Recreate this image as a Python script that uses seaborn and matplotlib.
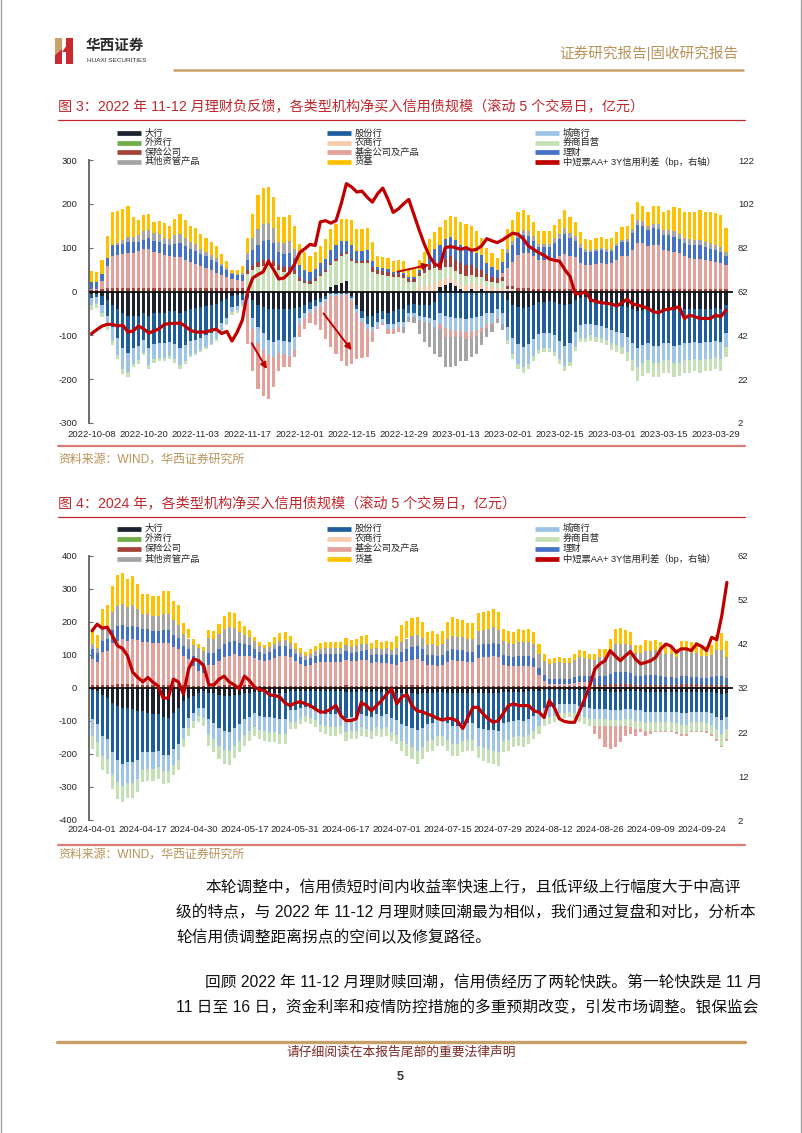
import matplotlib
matplotlib.use("Agg")
import matplotlib.pyplot as plt
from matplotlib.patches import Polygon
import numpy as np
import pandas as pd
import seaborn as sns

# ---------------- figure 3: 2022-10 ~ 2023-03 ----------------
dates_1 = ["2022-10-08", "2022-10-20", "2022-11-03", "2022-11-17", "2022-12-01",
           "2022-12-15", "2022-12-29", "2023-01-13", "2023-02-01", "2023-02-15",
           "2023-03-01", "2023-03-15", "2023-03-29"]

c1_dahang = [-5, -5, -10, -20, -30, -40, -50, -55, -55, -55,
             -50, -55, -50, -50, -48, -45, -45, -48, -45, -40,
             -38, -35, -32, -30, -28, -22, -18, -10, -8, -5,
             -5, -20, -30, -35, -40, -40, -40, -40, -40, -38,
             -35, -30, -25, -20, -15, -10, 10, 15, 20, 25,
             -10, -30, -45, -55, -55, -50, -45, -50, -45, -40,
             -40, -30, -28, -30, -30, -30, -25, 10, 15, 20,
             12, 5, 0, 5, 0, 5, 0, 0, 0, 0,
             -20, -30, -35, -38, -35, -30, -25, -25, -22, -25,
             -28, -30, -28, -20, -15, -12, -25, -25, -26, -28,
             -30, -32, -32, -35, -40, -45, -42, -40, -42, -42,
             -40, -40, -42, -42, -40, -40, -40, -40, -40, -40,
             -38, -40, -30]
c1_gufen = [-10, -8, -20, -35, -50, -65, -80, -85, -75, -70,
            -60, -75, -70, -68, -70, -70, -75, -82, -78, -72,
            -72, -70, -68, -65, -60, -50, -42, -25, -25, -15,
            -10, -40, -50, -60, -70, -75, -70, -72, -75, -65,
            -25, -20, -15, -12, -10, -8, -5, -5, -5, -5,
            -5, -10, -15, -20, -25, -20, -18, -25, -30, -30,
            -30, -20, -22, -25, -28, -30, -40, -50, -55, -58,
            -60, -60, -62, -60, -58, -55, -50, -48, -40, -50,
            -60, -75, -85, -88, -85, -78, -72, -70, -72, -75,
            -85, -95, -90, -72, -62, -63, -50, -52, -53, -55,
            -58, -60, -62, -68, -78, -85, -80, -78, -82, -82,
            -78, -78, -82, -80, -78, -78, -76, -78, -76, -76,
            -75, -76, -65]
c1_chengshang = [-15, -15, -18, -23, -33, -39, -46, -44, -35, -32,
                 -30, -38, -35, -33, -33, -32, -35, -38, -35, -32,
                 -30, -28, -26, -24, -20, -17, -14, -12, -10, -10,
                 -14, -26, -38, -38, -36, -34, -31, -31, -33, -30,
                 -14, -10, -8, -8, -8, -5, -5, -5, -3, -3,
                 -5, -8, -10, -10, -10, -10, -9, -11, -11, -12,
                 -10, -9, -8, -11, -12, -12, -17, -25, -28, -30,
                 -30, -30, -31, -30, -30, -28, -26, -24, -20, -25,
                 -30, -38, -45, -47, -45, -40, -37, -35, -36, -38,
                 -42, -45, -42, -35, -30, -30, -25, -26, -26, -27,
                 -30, -31, -32, -35, -38, -42, -40, -38, -40, -40,
                 -38, -38, -40, -40, -38, -38, -37, -38, -37, -37,
                 -36, -37, -32]
c1_nongshang = [0, 0, 0, 0, 0, 0, 0, 0, 0, 0,
                0, 0, 0, 0, 0, 0, 0, 0, 0, 0,
                0, 0, 0, 0, 0, 0, 0, 0, 0, 0,
                0, 0, 0, 0, 0, 0, 0, 0, 0, 0,
                0, 0, 0, 0, 0, 0, 0, 0, 0, 0,
                0, 0, 0, 0, 0, 0, 0, 0, 0, 0,
                0, 0, 0, 10, 12, 15, 18, 15, 15, 15,
                15, 15, 15, 15, 15, 12, 10, 10, 8, 8,
                5, 5, 0, 0, 0, 0, 0, 0, 0, 0,
                0, 0, 0, 0, 0, 0, 0, 0, 0, 0,
                0, 0, 0, 0, 0, 0, 0, 0, 0, 0,
                0, 0, 0, 0, 0, 0, 0, 0, 0, 0,
                0, 0, 0]
c1_quanshang = [-12, -10, -10, -10, -10, -10, -12, -12, -8, -8,
                -6, -9, -7, -7, -7, -7, -7, -9, -7, -6,
                -6, -5, -5, -4, -4, -3, -3, -7, -7, -5,
                40, 50, 55, 58, 60, 58, 50, 45, 45, 40,
                25, 20, 18, 25, 35, 45, 50, 55, 60, 60,
                70, 65, 65, 65, 45, 40, 38, 36, 32, 32,
                30, 22, 22, 25, 30, 35, 35, 25, 25, 20,
                20, 20, 20, 18, 18, 15, 15, 12, 12, 15,
                -9, -11, -12, -12, -12, -10, -8, -8, -8, -10,
                -10, -11, -9, -8, -8, -10, -12, -12, -13, -13,
                -15, -15, -16, -20, -25, -32, -30, -29, -32, -31,
                -29, -29, -32, -30, -29, -29, -28, -29, -28, -28,
                -28, -28, -23]
c1_baoxian = [3, 3, 5, 8, 8, 8, 8, 8, 8, 8,
              8, 8, 8, 8, 8, 8, 8, 8, 8, 8,
              8, 8, 8, 8, 8, 8, 8, 8, 8, 8,
              8, 10, 12, 15, 15, 12, 10, 10, 10, 8,
              5, 5, 5, 5, 5, 5, 5, 5, 5, 5,
              5, 5, 5, 8, 10, 8, 8, 8, 8, 8,
              8, 6, 6, 8, 10, 12, 15, 15, 20, 25,
              25, 25, 25, 22, 20, 18, 15, 12, 10, 10,
              8, 8, 8, 8, 8, 6, 6, 6, 6, 6,
              6, 6, 6, 6, 5, 5, 5, 5, 5, 5,
              5, 5, 5, 5, 5, 5, 5, 5, 5, 5,
              5, 5, 5, 5, 5, 5, 5, 5, 5, 5,
              5, 5, 5]
c1_jijin = [3, 3, 20, 50, 72, 75, 78, 80, 80, 85,
            88, 88, 82, 80, 75, 72, 70, 70, 65, 60,
            55, 50, 45, 40, 35, 30, 25, 20, 18, 15,
            -90, -95, -105, -105, -100, -70, -40, -30, -25, -17,
            -30, -25, -25, -37, -55, -85, -117, -132, -150, -163,
            -145, -106, -82, -65, -25, -5, -5, -10, -10, -10,
            0, 0, 0, 0, 0, 0, 0, -10, -20, -15,
            -14, -13, -15, -15, -14, -10, -8, -5, -3, 10,
            40, 55, 75, 80, 80, 75, 65, 65, 65, 70,
            75, 80, 75, 72, 60, 55, 55, 58, 60, 58,
            60, 68, 75, 75, 90, 105, 105, 98, 100, 100,
            90, 88, 85, 82, 75, 72, 70, 70, 68, 65,
            62, 60, 55]
c1_licai = [15, 15, 15, 18, 25, 22, 22, 25, 25, 20,
            22, 25, 25, 25, 25, 25, 30, 32, 30, 30,
            30, 28, 28, 25, 25, 20, 15, 12, 12, 15,
            25, 34, 40, 42, 42, 40, 30, 30, 32, 28,
            30, 25, 22, 22, 25, 25, 30, 30, 30, 25,
            30, 22, 22, 22, 15, 8, 8, 8, 5, 5,
            5, 4, 4, 5, 10, 20, 30, 40, 45, 45,
            45, 40, 40, 38, 35, 33, 25, 23, 20, 25,
            35, 38, 40, 40, 38, 35, 30, 30, 30, 35,
            38, 45, 40, 38, 35, 30, 30, 30, 30, 28,
            28, 30, 32, 32, 38, 42, 40, 38, 40, 38,
            35, 35, 35, 32, 30, 30, 30, 30, 28, 28,
            28, 25, 20]
c1_qita = [0, 0, 0, 0, 0, 5, 10, 12, 12, 15,
           20, 20, 18, 18, 15, 15, 20, 22, 18, 15,
           15, 12, 10, 10, 8, 5, 5, 3, 3, 5,
           15, 27, 35, 38, 40, 35, 22, 25, 28, 20,
           0, 0, 0, 0, 0, 0, 0, 0, 0, 0,
           0, 0, 0, 0, 0, 0, 0, 0, 0, 0,
           -15, -10, -15, -30, -45, -55, -60, -65, -70, -70,
           -65, -55, -50, -45, -40, -30, -20, -15, -10, -13,
           10, 10, 12, 12, 12, 10, 8, 8, 8, 10,
           12, 14, 12, 10, 8, 6, 5, 5, 5, 5,
           5, 6, 6, 8, 10, 12, 10, 8, 10, 10,
           10, 12, 12, 12, 12, 12, 12, 12, 12, 12,
           12, 12, 10]
c1_huoji = [25, 23, 33, 51, 76, 74, 70, 69, 44, 35,
            37, 35, 26, 30, 33, 30, 37, 44, 41, 37,
            36, 33, 32, 29, 28, 22, 16, 7, 9, 15,
            35, 56, 79, 83, 82, 71, 57, 59, 60, 54,
            48, 40, 37, 37, 39, 44, 47, 49, 50, 50,
            57, 50, 50, 50, 43, 25, 25, 25, 24, 26,
            26, 22, 20, 24, 27, 37, 37, 43, 44, 48,
            52, 54, 54, 52, 50, 40, 35, 30, 27, 28,
            44, 46, 46, 45, 37, 32, 29, 29, 29, 31,
            34, 42, 36, 33, 27, 23, 23, 25, 25, 23,
            25, 27, 30, 30, 34, 40, 35, 33, 40, 43,
            41, 45, 55, 59, 59, 62, 64, 68, 68, 72,
            72, 73, 56]
c1_spread = [42.8, 44.6, 46.2, 47, 47, 46.3, 46.6, 43.5, 44, 46.2,
             45, 43, 44, 45, 47, 47.4, 47.4, 47.7, 46.2, 44.3,
             43.5, 43.5, 43.5, 44.3, 44.8, 42.8, 43.8, 39.4, 43.5, 49,
             62, 68.2, 69.7, 71, 75.8, 72, 67.7, 68.2, 70.5, 74.3,
             79.7, 81.5, 83.5, 83, 93.8, 94.3, 93.2, 94.3, 102, 111.2,
             109.7, 107.4, 107.8, 105, 102.8, 106.6, 109.2, 104, 98.1, 99.7,
             102, 104, 97, 90, 83.5, 78, 74.5, 73.5, 82, 82.5,
             82, 81.2, 82, 80.8, 81.2, 82.8, 86.1, 85.1, 84.3, 85.5,
             87.1, 88.6, 88.1, 86.1, 82.8, 81.2, 79.7, 78.5, 76.9, 76.3,
             75.8, 72, 68.9, 61, 61, 62, 58.2, 57.4, 56.9, 56.6,
             56.3, 55.4, 56.9, 58.5, 56.3, 55.8, 55.1, 54.3, 52.8, 52.3,
             53.5, 54, 54.3, 55.1, 49.7, 51.2, 50.5, 49.7, 49.7, 49.7,
             51.2, 50.5, 53.5]
# red arrows drawn on figure 3: (start, end) in (bar index, value)
arrows_1 = [((30.8, -118), (33.7, -177)),
            ((44.6, -50), (50.0, -134)),
            ((58.8, 45), (64.9, 61))]

# ---------------- figure 4: 2024-04 ~ 2024-09 ----------------
dates_2 = ["2024-04-01", "2024-04-17", "2024-04-30", "2024-05-17", "2024-05-31",
           "2024-06-17", "2024-07-01", "2024-07-15", "2024-07-29", "2024-08-12",
           "2024-08-26", "2024-09-09", "2024-09-24"]

c2_dahang = [-5, -10, -20, -30, -45, -54, -60, -60, -65, -70,
             -70, -75, -80, -80, -88, -90, -75, -60, -40, -30,
             -25, -15, -10, -15, -15, -20, -25, -25, -20, -20,
             -15, -15, -12, -12, -12, -12, -15, -16, -16, -10,
             -10, -8, -8, -8, -8, -10, -10, -10, -10, -10,
             -12, -12, -12, -10, -12, -12, -10, -12, -10, -12,
             -15, -15, -15, -15, -18, -15, -15, -15, -12, -12,
             -15, -15, -15, -15, -15, -15, -15, -15, -15, -15,
             -15, -12, -12, -12, -12, -12, -10, -10, -8, -5,
             -5, -5, -5, -5, -5, -5, -5, -5, -5, -8,
             -10, -10, -12, -12, -12, -10, -10, -10, -10, -12,
             -12, -12, -12, -12, -12, -12, -12, -12, -12, -12,
             -12, -12, -12, -15, -18, -15]
c2_gufen = [-90, -100, -125, -125, -150, -165, -170, -165, -160, -148,
            -125, -120, -115, -112, -115, -112, -110, -110, -80, -62,
            -50, -45, -50, -80, -90, -100, -105, -108, -100, -90,
            -80, -72, -65, -72, -75, -76, -75, -79, -79, -58,
            -58, -52, -50, -52, -58, -65, -68, -70, -70, -68,
            -78, -75, -75, -70, -72, -75, -70, -72, -70, -78,
            -82, -95, -100, -105, -110, -105, -95, -92, -85, -85,
            -92, -100, -100, -95, -92, -92, -105, -108, -112, -113,
            -115, -95, -92, -88, -85, -88, -83, -75, -68, -55,
            -52, -50, -45, -44, -42, -45, -50, -52, -55, -55,
            -55, -55, -55, -55, -55, -55, -55, -58, -58, -60,
            -60, -60, -60, -60, -60, -62, -65, -65, -60, -60,
            -60, -62, -65, -72, -80, -72]
c2_chengshang = [-50, -55, -60, -60, -65, -66, -66, -62, -62, -58,
                 -52, -50, -50, -48, -50, -50, -48, -48, -35, -30,
                 -25, -24, -30, -45, -50, -55, -58, -58, -55, -50,
                 -47, -43, -40, -42, -43, -44, -43, -45, -45, -34,
                 -34, -30, -28, -30, -32, -36, -37, -39, -39, -37,
                 -43, -42, -42, -39, -40, -42, -39, -40, -39, -43,
                 -45, -50, -55, -58, -62, -58, -52, -50, -48, -48,
                 -50, -55, -55, -52, -50, -50, -57, -59, -61, -62,
                 -64, -55, -53, -50, -48, -50, -48, -44, -40, -34,
                 -32, -30, -27, -26, -25, -27, -30, -32, -34, -32,
                 -30, -30, -30, -30, -30, -30, -30, -32, -32, -33,
                 -32, -32, -32, -32, -32, -33, -34, -34, -32, -32,
                 -32, -32, -34, -38, -42, -38]
c2_quanshang = [-40, -45, -45, -46, -46, -51, -50, -47, -47, -40,
                -37, -36, -36, -36, -38, -36, -32, -32, -25, -22,
                -20, -20, -24, -36, -38, -40, -42, -42, -38, -35,
                -33, -30, -27, -29, -30, -31, -30, -30, -30, -22,
                -22, -19, -18, -19, -21, -23, -24, -25, -25, -24,
                -27, -26, -26, -25, -25, -26, -25, -25, -25, -27,
                -28, -30, -35, -37, -40, -37, -33, -33, -30, -30,
                -33, -36, -36, -33, -33, -33, -36, -38, -39, -40,
                -41, -33, -33, -30, -30, -30, -29, -26, -23, -20,
                -20, -19, -17, -17, -17, -17, -19, -20, -20, -20,
                -20, -20, -18, -18, -18, -20, -22, -24, -24, -25,
                -25, -25, -25, -25, -25, -27, -28, -28, -25, -25,
                -25, -25, -28, -30, -35, -30]
c2_baoxian = [8, 8, 8, 8, 10, 12, 12, 12, 12, 10,
              10, 10, 10, 10, 10, 10, 10, 8, 8, 8,
              6, 6, 6, 6, 6, 6, 8, 8, 8, 8,
              8, 8, 6, 6, 6, 6, 6, 6, 6, 6,
              6, 6, 6, 6, 6, 6, 6, 6, 6, 6,
              8, 6, 6, 6, 6, 6, 6, 6, 6, 6,
              6, 8, 8, 8, 8, 8, 6, 6, 6, 6,
              6, 6, 6, 6, 6, 6, 6, 6, 6, 6,
              6, 6, 6, 6, 6, 6, 6, 6, 5, 5,
              5, 5, 5, 5, 5, 5, 5, 5, 5, 8,
              10, 10, 12, 12, 12, 12, 12, 10, 10, 10,
              10, 10, 10, 10, 10, 10, 12, 12, 12, 12,
              10, 10, 10, 10, 10, 10]
c2_jijin = [80, 70, 100, 105, 125, 130, 135, 130, 135, 135,
            130, 130, 125, 125, 125, 125, 115, 110, 90, 80,
            60, 45, 40, 65, 65, 75, 85, 90, 95, 90,
            90, 90, 85, 78, 75, 80, 85, 92, 92, 88,
            75, 68, 62, 65, 70, 72, 74, 74, 74, 74,
            78, 75, 77, 80, 80, 70, 72, 70, 70, 68,
            65, 70, 75, 78, 80, 75, 65, 65, 62, 65,
            72, 78, 76, 75, 72, 72, 85, 88, 88, 90,
            88, 65, 62, 60, 62, 60, 62, 58, 35, 15,
            8, 8, 8, 8, 8, 10, 12, 12, 10, -24,
            -40, -65, -70, -65, -50, -29, -22, -20, -10, -14,
            -10, -5, -5, -5, -5, -5, -5, -5, -5, -5,
            -5, -5, -5, -5, -5, -5]
c2_licai = [30, 28, 35, 35, 40, 45, 45, 42, 42, 40,
            38, 38, 38, 38, 40, 40, 35, 33, 30, 30,
            30, 30, 30, 35, 35, 38, 40, 42, 40, 38,
            35, 32, 28, 25, 22, 24, 27, 28, 28, 25,
            22, 20, 18, 20, 22, 24, 24, 24, 24, 24,
            26, 25, 25, 27, 28, 24, 26, 25, 26, 25,
            28, 32, 35, 38, 38, 35, 30, 30, 28, 30,
            33, 35, 34, 33, 32, 32, 38, 38, 38, 40,
            38, 30, 28, 28, 30, 30, 30, 28, 22, 18,
            15, 15, 15, 15, 15, 18, 20, 20, 20, 22,
            25, 25, 30, 35, 35, 35, 32, 25, 25, 28,
            28, 28, 25, 22, 22, 20, 25, 25, 22, 22,
            20, 20, 22, 25, 25, 20]
c2_qita = [16, 14, 37, 40, 54, 61, 62, 60, 62, 55,
           45, 45, 45, 45, 48, 48, 45, 40, 35, 32,
           35, 40, 35, 45, 43, 45, 45, 45, 40, 33,
           28, 25, 22, 18, 17, 15, 16, 17, 18, 16,
           14, 12, 12, 13, 14, 15, 16, 16, 16, 16,
           18, 17, 18, 20, 20, 17, 18, 17, 18, 17,
           22, 30, 32, 35, 36, 35, 30, 32, 30, 32,
           38, 40, 40, 40, 38, 38, 45, 45, 46, 48,
           45, 40, 40, 40, 42, 42, 42, 42, 40, 45,
           45, 47, 50, 48, 48, 52, 57, 55, 52, 55,
           60, 60, 70, 85, 85, 85, 85, 70, 70, 75,
           75, 77, 75, 70, 70, 65, 75, 75, 72, 72,
           68, 66, 68, 80, 80, 65]
c2_huoji = [40, 40, 60, 62, 80, 93, 93, 87, 87, 75,
            62, 62, 62, 60, 70, 70, 60, 60, 34, 29,
            18, 12, 12, 25, 25, 30, 39, 46, 43, 35,
            28, 22, 15, 11, 10, 15, 20, 24, 25, 24,
            18, 14, 12, 14, 16, 19, 20, 20, 20, 20,
            22, 21, 22, 25, 28, 20, 23, 22, 22, 22,
            37, 50, 52, 52, 52, 47, 40, 41, 38, 41,
            50, 55, 53, 52, 48, 49, 53, 54, 54, 55,
            54, 38, 38, 37, 39, 39, 39, 37, 31, 20,
            15, 15, 15, 15, 15, 18, 22, 21, 16, 18,
            23, 23, 36, 47, 49, 45, 42, 25, 25, 32,
            30, 30, 28, 24, 24, 23, 31, 31, 32, 32,
            32, 30, 30, 46, 52, 48]
c2_spread = [45, 46.5, 45.6, 45.8, 43.9, 41.6, 41, 39.3, 35.6, 34.4,
             33.4, 34.4, 33.3, 32.5, 29.7, 29.7, 34, 33.4, 30.6, 36.3,
             38.6, 38.2, 37, 32.7, 32.7, 34, 34.7, 33.4, 32.7, 31.8,
             34.7, 33.7, 32.2, 31.6, 31.4, 30.4, 30.3, 29.9, 28.6, 28,
             28.6, 28.9, 28.4, 28, 27.2, 26.5, 26.6, 27.2, 28, 25.7,
             24.6, 24.6, 25, 28.7, 28, 26.8, 28, 29.1, 30.6, 31.8,
             28.4, 30, 30.5, 28, 26.8, 26.6, 26.1, 25.7, 25.1, 24.7,
             25.1, 25, 24.4, 22.8, 25.3, 27.6, 27.6, 26.1, 25, 24.2,
             24.6, 26.3, 28, 28.4, 28, 28, 28, 26.8, 26.5, 25.3,
             29.1, 27.6, 25, 24.4, 24.2, 24.2, 26.8, 29.5, 32.5, 36.3,
             37.5, 38.2, 40.5, 39.3, 38.2, 39.3, 40.3, 38.6, 37.5, 37.8,
             38.2, 39, 40.9, 42, 41.5, 40.1, 40.9, 40.9, 40.5, 42,
             41.5, 40.5, 43.5, 43, 48.5, 56]

# ---------------- page text ----------------
title_1 = "图 3：2022 年 11-12 月理财负反馈，各类型机构净买入信用债规模（滚动 5 个交易日，亿元）"
title_2 = "图 4：2024 年，各类型机构净买入信用债规模（滚动 5 个交易日，亿元）"
source = "资料来源：WIND，华西证券研究所"
body = [("本轮调整中，信用债短时间内收益率快速上行，且低评级上行幅度大于中高评", 205, 888),
        ("级的特点，与 2022 年 11-12 月理财赎回潮最为相似，我们通过复盘和对比，分析本", 176, 913),
        ("轮信用债调整距离拐点的空间以及修复路径。", 176, 937),
        ("回顾 2022 年 11-12 月理财赎回潮，信用债经历了两轮快跌。第一轮快跌是 11 月", 205, 983),
        ("11 日至 16 日，资金利率和疫情防控措施的多重预期改变，引发市场调整。银保监会", 176, 1008)]

SERIES = ["大行", "股份行", "城商行", "外资行", "农商行", "券商自营", "保险公司",
          "基金公司及产品", "理财", "其他资管产品", "货基"]
COLORS = {"大行": "#1d2230", "股份行": "#1f5e9c", "城商行": "#9dc3e6", "外资行": "#70ad47",
          "农商行": "#f8cbad", "券商自营": "#c5e0b4", "保险公司": "#a3423a",
          "基金公司及产品": "#e3a19c", "理财": "#4472c4", "其他资管产品": "#a5a5a5",
          "货基": "#ffc000"}
RED = "#c00000"
LINE_LABEL = "中短票AA+ 3Y信用利差（bp，右轴）"

frame_1 = pd.DataFrame({"大行": c1_dahang, "股份行": c1_gufen, "城商行": c1_chengshang,
                        "农商行": c1_nongshang, "券商自营": c1_quanshang, "保险公司": c1_baoxian,
                        "基金公司及产品": c1_jijin, "理财": c1_licai, "其他资管产品": c1_qita,
                        "货基": c1_huoji})
frame_2 = pd.DataFrame({"大行": c2_dahang, "股份行": c2_gufen, "城商行": c2_chengshang,
                        "券商自营": c2_quanshang, "保险公司": c2_baoxian,
                        "基金公司及产品": c2_jijin, "理财": c2_licai, "其他资管产品": c2_qita,
                        "货基": c2_huoji})
assert len(frame_1) == len(c1_spread) == 123
assert len(frame_2) == len(c2_spread) == 126

sns.set_theme(style="white")
plt.rcParams["font.family"] = ["Liberation Sans", "Noto Sans CJK SC", "DejaVu Sans"]
plt.rcParams["axes.unicode_minus"] = False

W, H = 802, 1133
fig = plt.figure(figsize=(W / 100, H / 100), dpi=100)


def px_axes(left, top, right, bottom):
    return fig.add_axes([left / W, 1 - bottom / H, (right - left) / W, (bottom - top) / H])


def draw_panel(ax, frame, spread, xlim, ylim, yticks, ylim_r, yticks_r, dates, xpad):
    x = np.arange(len(frame))
    up = np.zeros(len(frame))
    down = np.zeros(len(frame))
    for name in frame.columns:
        v = frame[name].to_numpy(dtype=float)
        pos = np.clip(v, 0, None)
        neg = np.clip(v, None, 0)
        ax.bar(x, pos, bottom=up, width=0.6, color=COLORS[name], linewidth=0, zorder=2)
        ax.bar(x, neg, bottom=down, width=0.6, color=COLORS[name], linewidth=0, zorder=2)
        up += pos
        down += neg
    ax.axhline(0, color="#111111", lw=1.3, zorder=4)

    axr = ax.twinx()
    sns.lineplot(x=x, y=spread, ax=axr, color=RED, linewidth=2.3, legend=False)

    ax.set_xlim(*xlim)
    ax.set_ylim(*ylim)
    ax.set_yticks(yticks)
    ax.set_yticklabels([str(t) for t in yticks])
    ax.set_xticks(range(0, 10 * len(dates), 10))
    ax.set_xticklabels(dates)
    for s in ["top", "right", "bottom"]:
        ax.spines[s].set_visible(False)
    ax.spines["left"].set_color("#6b6b6b")
    ax.spines["left"].set_linewidth(1.4)
    ax.tick_params(axis="y", direction="in", length=3, width=0.8, color="#6b6b6b",
                   pad=8.5, labelsize=6.8, labelcolor="#262626")
    ax.tick_params(axis="x", length=0, pad=xpad, labelsize=6.8, labelcolor="#262626")
    ax.set_xlabel("")
    ax.set_ylabel("")

    axr.set_xlim(*xlim)
    axr.set_ylim(*ylim_r)
    axr.set_yticks(yticks_r)
    axr.set_yticklabels([str(t) for t in yticks_r])
    axr.tick_params(axis="y", length=0, pad=3.5, labelsize=6.8, labelcolor="#262626")
    for s in axr.spines.values():
        s.set_visible(False)
    axr.set_ylabel("")
    return axr


ax1 = px_axes(89, 160, 733, 423)
draw_panel(ax1, frame_1, c1_spread, (-0.5, 123.35), (-300, 300), list(range(-300, 301, 100)),
           (2, 122), list(range(2, 123, 20)), dates_1, 5)
for start, end in arrows_1:
    ax1.annotate("", xy=end, xytext=start, zorder=6,
                 arrowprops=dict(arrowstyle="-|>", color=RED, lw=1.4, mutation_scale=9,
                                 shrinkA=0, shrinkB=0))

ax2 = px_axes(89, 556, 733, 820)
draw_panel(ax2, frame_2, c2_spread, (-0.6, 126.2), (-400, 400), list(range(-400, 401, 100)),
           (2, 62), list(range(2, 63, 10)), dates_2, 3.5)

# ---------------- page overlay (pixel coordinates) ----------------
page = fig.add_axes([0, 0, 1, 1], zorder=10)
page.patch.set_alpha(0)
page.set_xlim(0, W)
page.set_ylim(H, 0)
page.axis("off")

GOLD = "#b8935a"
page.plot([1, 1], [0, H], color="#a0a0a0", lw=1)
page.plot([W - 1, W - 1], [0, H], color="#a0a0a0", lw=1)

# logo
page.add_patch(Polygon([(55, 38), (62, 38), (62, 49), (55, 55)], closed=True, color="#c9a46a", lw=0))
page.add_patch(Polygon([(55, 55), (62, 49), (62, 64), (55, 64)], closed=True, color="#c8282e", lw=0))
page.add_patch(Polygon([(62, 52), (67, 45), (67, 52)], closed=True, color="#c8282e", lw=0))
page.add_patch(Polygon([(66, 38), (73, 38), (73, 64), (66, 64)], closed=True, color="#c8282e", lw=0))
page.text(86, 46, "华西证券", fontsize=10.5, fontweight="bold", color="#2b2b2b", va="center", ha="left")
page.text(87, 61, "HUAXI SECURITIES", fontsize=4.6, color="#2b2b2b", va="center", ha="left")
page.text(738, 53, "证券研究报告|固收研究报告", fontsize=10.5, color=GOLD, va="center", ha="right")
page.plot([174, 743], [69.5, 69.5], color="#c6a067", lw=1.8)


def legend_block(rows_y):
    rows = [["大行", "股份行", "城商行"], ["外资行", "农商行", "券商自营"],
            ["保险公司", "基金公司及产品", "理财"], ["其他资管产品", "货基", LINE_LABEL]]
    cols_x = [117, 327, 535]
    for r, y in zip(rows, rows_y):
        for name, x0 in zip(r, cols_x):
            color = RED if name == LINE_LABEL else COLORS[name]
            page.plot([x0, x0 + 24], [y, y], color=color, lw=3.4, solid_capstyle="butt")
            page.text(x0 + 28, y, name, fontsize=6.7, color="#262626", va="center", ha="left")


def caption(title, y_title, y_rule, y_src_rule, y_src):
    page.text(58, y_title, title, fontsize=10.2, color="#c0282d", va="center", ha="left")
    page.plot([58, 745], [y_rule, y_rule], color="#c0282d", lw=0.9)
    page.plot([58, 745], [y_src_rule, y_src_rule], color="#d97c78", lw=1.6)
    page.text(58, y_src, source, fontsize=8.6, color=GOLD, va="center", ha="left")


caption(title_1, 107, 120, 446, 460)
legend_block([133, 142.5, 152, 161.5])
caption(title_2, 504, 516.5, 845, 855)
legend_block([528.5, 538.5, 548.5, 559])

for line, x0, y in body:
    page.text(x0, y, line, fontsize=11.3, color="#111111", va="center", ha="left")

page.plot([57, 745], [1041.5, 1041.5], color="#c6a067", lw=2.4)
page.text(401, 1053, "请仔细阅读在本报告尾部的重要法律声明", fontsize=9.2, color="#7a2a25",
          va="center", ha="center")
page.text(400, 1077, "5", fontsize=9, fontweight="bold", color="#333333", va="center", ha="center")

fig.savefig("out.png", dpi=100)
